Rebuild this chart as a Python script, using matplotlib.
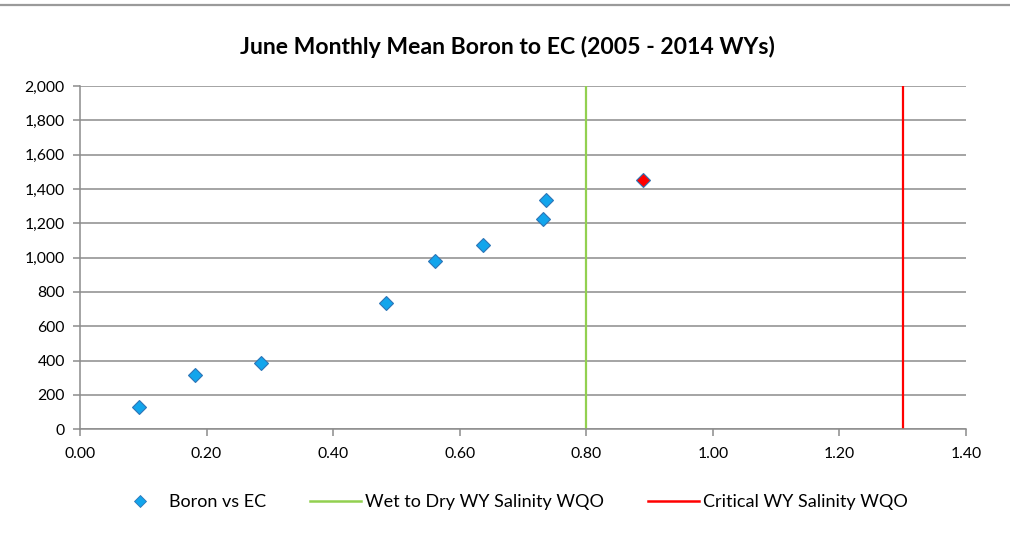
import matplotlib
matplotlib.use("Agg")
import matplotlib.pyplot as plt
from matplotlib.lines import Line2D
from matplotlib.ticker import FuncFormatter, MultipleLocator

# June monthly mean values
ec_values = [0.093, 0.182, 0.286, 0.484, 0.561, 0.637, 0.731, 0.737]
boron_values = [132, 315, 385, 735, 980, 1075, 1227, 1338]
highlight_ec = [0.890]
highlight_boron = [1455]

wet_to_dry_wqo = 0.80
critical_wqo = 1.30

title = "June Monthly Mean Boron to EC (2005 - 2014 WYs)"
legend_labels = ["Boron vs EC", "Wet to Dry WY Salinity WQO", "Critical WY Salinity WQO"]

plt.rcParams["font.family"] = ["Lato", "DejaVu Sans"]

GRID = "#8c8c8c"
BLUE_FILL = "#12A5EC"
BLUE_EDGE = "#2E75B6"
GREEN = "#92D050"
RED = "#FF0000"

fig = plt.figure(figsize=(10.1, 5.35), dpi=100)
ax = fig.add_axes([0.0792, 0.1976, 0.8772, 0.6417])

ax.set_xlim(0, 1.4)
ax.set_ylim(0, 2000)
ax.xaxis.set_major_locator(MultipleLocator(0.2))
ax.yaxis.set_major_locator(MultipleLocator(200))
ax.xaxis.set_major_formatter(FuncFormatter(lambda v, _: f"{v:.2f}"))
ax.yaxis.set_major_formatter(FuncFormatter(lambda v, _: f"{v:,.0f}"))

ax.grid(axis="y", color=GRID, linewidth=1.1)
ax.set_axisbelow(True)
for side in ("top", "right"):
    ax.spines[side].set_visible(False)
for side in ("left", "bottom"):
    ax.spines[side].set_color(GRID)
    ax.spines[side].set_linewidth(1.1)
ax.tick_params(axis="both", colors=GRID, length=5, width=1.1, labelcolor="black", labelsize=11.3)
ax.tick_params(axis="x", pad=8)
ax.tick_params(axis="y", pad=6)

ax.axvline(wet_to_dry_wqo, color=GREEN, linewidth=1.6, zorder=2)
ax.axvline(critical_wqo, color=RED, linewidth=1.6, zorder=2)

ax.plot(ec_values, boron_values, linestyle="none", marker="D", markersize=7.5,
        markerfacecolor=BLUE_FILL, markeredgecolor=BLUE_EDGE, markeredgewidth=0.8, zorder=3)
ax.plot(highlight_ec, highlight_boron, linestyle="none", marker="D", markersize=7.5,
        markerfacecolor=RED, markeredgecolor=BLUE_EDGE, markeredgewidth=0.8, zorder=3)

fig.text(0.502, 0.912, title, ha="center", va="center", fontsize=16.6, fontweight="bold")

# thin frame line across the top of the chart area
fig.add_artist(Line2D([0, 1], [1 - 4.5 / 535, 1 - 4.5 / 535], color="#9a9a9a", linewidth=1.6))

handles = [
    Line2D([], [], linestyle="none", marker="D", markersize=6.5,
           markerfacecolor=BLUE_FILL, markeredgecolor=BLUE_EDGE, markeredgewidth=0.6),
    Line2D([], [], color=GREEN, linewidth=1.8),
    Line2D([], [], color=RED, linewidth=1.8),
]
fig.legend(handles, legend_labels, loc="center", bbox_to_anchor=(0.506, 0.0617), ncol=3,
           frameon=False, fontsize=13, handlelength=2.8, handletextpad=0.22, columnspacing=2.45)

fig.savefig("out.png", dpi=100)
